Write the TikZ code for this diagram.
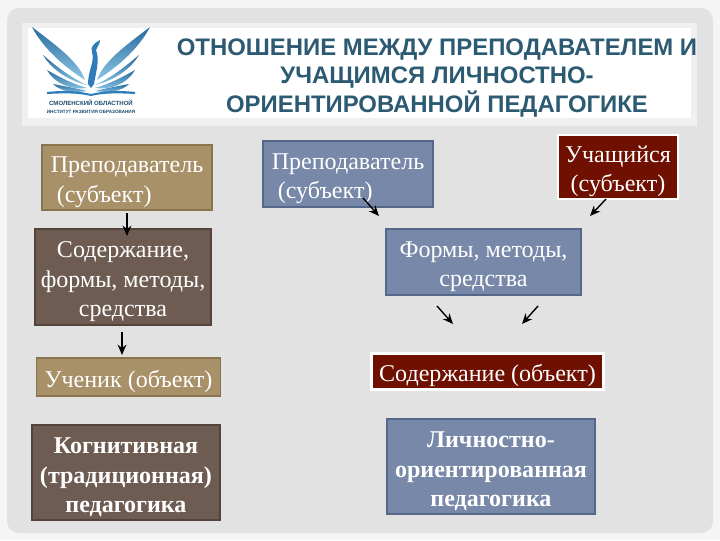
\documentclass[tikz,border=0pt]{standalone}
\usepackage{fontspec}
\setmainfont{Liberation Serif}
\newfontfamily\titlefont{Liberation Sans}
\usetikzlibrary{arrows.meta}
\definecolor{tanfill}{HTML}{A89068}
\definecolor{tanline}{HTML}{8A7450}
\definecolor{brownfill}{HTML}{6E5C52}
\definecolor{brownline}{HTML}{52443C}
\definecolor{bluefill}{HTML}{7788A8}
\definecolor{blueline}{HTML}{56688A}
\definecolor{redfill}{HTML}{701000}
\definecolor{titleblue}{HTML}{2C5A72}
\definecolor{slidegrey}{HTML}{E2E2E2}
\definecolor{logoblue}{HTML}{2F7DB8}
\definecolor{logolight}{HTML}{8CC6E6}
\newcommand{\topgap}{\rule{0pt}{18pt}}
\tikzset{
  box/.style={draw, line width=1pt, text=white, align=center, inner sep=0pt, font=\fontsize{17.1}{20.8}\selectfont},
  tanbox/.style={box, fill=tanfill, draw=tanline},
  brownbox/.style={box, fill=brownfill, draw=brownline},
  bluebox/.style={box, fill=bluefill, draw=blueline},
  redbox/.style={box, fill=redfill, draw=white, line width=2pt},
  titletext/.style={align=center, text=titleblue, font=\titlefont\bfseries\fontsize{17}{20.6}\selectfont},
  logotext/.style={text=logoblue!60!black, inner sep=0pt, font=\titlefont\bfseries},
  feather/.style={top color=logoblue!85!black, bottom color=logolight, draw=none},
  cline/.style={-{Stealth[length=2.6mm,width=2.2mm]}, line width=1pt},
}
\begin{document}
\begin{tikzpicture}[x=0.025cm,y=-0.025cm]
  \useasboundingbox (0,0) rectangle (720,540);
  \fill[white!96!black] (0,0) rectangle (720,540);
  \fill[slidegrey, rounded corners=0.3cm] (7,8) rectangle (713,533);
  \fill[white!94!black] (22,23) rectangle (697,126);
  \fill[white] (28,28) rectangle (691,118);
  % logo
  \foreach \side in {1,-1}{
    \begin{scope}[shift={(91,0)}, xscale=\side]
      \path[feather] (59,27) .. controls (48,48) and (28,66) .. (6,80) .. controls (12,62) and (34,46) .. (59,27) -- cycle;
      \path[feather] (48,55) .. controls (35,66) and (20,78) .. (4,85) .. controls (18,82) and (38,72) .. (48,55) -- cycle;
      \path[feather] (44,70) .. controls (30,78) and (18,84) .. (4,88) .. controls (20,90) and (36,84) .. (44,70) -- cycle;
      \path[feather] (38,84) .. controls (28,86) and (16,88) .. (4,91) .. controls (16,93) and (30,92) .. (38,84) -- cycle;
      \fill[logoblue] (44,92) .. controls (26,90) and (12,91) .. (0,94) -- (0,96) .. controls (12,93) and (26,93) .. (44,94) -- cycle;
    \end{scope}
  }
  \fill[logoblue] (88,84) .. controls (88,70) and (95,62) .. (92,52) .. controls (90,47) and (94,43) .. (100,40) .. controls (100,45) and (97,46) .. (96,50) .. controls (100,60) and (96,72) .. (94,84) -- (91,88) -- cycle;
  \node[logotext, font=\titlefont\bfseries\fontsize{4.3}{5}\selectfont] (logotop) at (91,103) {СМОЛЕНСКИЙ ОБЛАСТНОЙ};
  \node[logotext, font=\titlefont\bfseries\fontsize{3.3}{4}\selectfont] (logobottom) at (91,112) {ИНСТИТУТ РАЗВИТИЯ ОБРАЗОВАНИЯ};
  % title
  \node[titletext] (title) at (437,78) {ОТНОШЕНИЕ МЕЖДУ ПРЕПОДАВАТЕЛЕМ И\\УЧАЩИМСЯ ЛИЧНОСТНО-\\ОРИЕНТИРОВАННОЙ ПЕДАГОГИКЕ};
  % left column
  \node[tanbox, minimum width=4.25cm, minimum height=1.62cm, align=left] (teacherL) at (127,177.5) {\topgap Преподаватель\\\ (субъект)};
  \node[brownbox, minimum width=4.4cm, minimum height=2.4cm] (contentL) at (123,277) {\topgap Содержание,\\формы, методы,\\средства};
  \node[tanbox, minimum width=4.6cm, minimum height=0.95cm] (pupil) at (128.5,377) {\topgap Ученик (объект)};
  \node[brownbox, minimum width=4.7cm, minimum height=2.38cm, font=\bfseries\fontsize{17.1}{20.8}\selectfont] (cognitive) at (126,472.5) {\topgap Когнитивная\\(традиционная)\\педагогика};
  % right column
  \node[bluebox, minimum width=4.25cm, minimum height=1.65cm, align=left] (teacherR) at (348,174) {\topgap Преподаватель\\\ (субъект)};
  \node[redbox, minimum width=3cm, minimum height=1.6cm] (learner) at (618,167) {\topgap Учащийся\\(субъект)};
  \node[bluebox, minimum width=4.87cm, minimum height=1.65cm] (forms) at (483.5,262) {\topgap Формы, методы,\\средства};
  \node[redbox, minimum width=5.78cm, minimum height=0.9cm] (contentR) at (487.5,371.5) {\topgap Содержание (объект)};
  \node[bluebox, minimum width=5.2cm, minimum height=2.38cm, font=\bfseries\fontsize{17.1}{20.8}\selectfont] (personal) at (491,466.5) {\topgap Личностно-\\ориентированная\\педагогика};
  % arrows
  \coordinate (a1) at (127,213);  \coordinate (a1e) at (127,236);
  \coordinate (a2) at (122,332);  \coordinate (a2e) at (122,355);
  \coordinate (a3) at (363,198);  \coordinate (a3e) at (379,216);
  \coordinate (a4) at (606,199);  \coordinate (a4e) at (590,216);
  \coordinate (a5) at (437,306);  \coordinate (a5e) at (453,324);
  \coordinate (a6) at (538,306);  \coordinate (a6e) at (522,324);
  \draw[cline] (a1) -- (a1e);
  \draw[cline] (a2) -- (a2e);
  \draw[cline] (a3) -- (a3e);
  \draw[cline] (a4) -- (a4e);
  \draw[cline] (a5) -- (a5e);
  \draw[cline] (a6) -- (a6e);
\end{tikzpicture}
\end{document}
